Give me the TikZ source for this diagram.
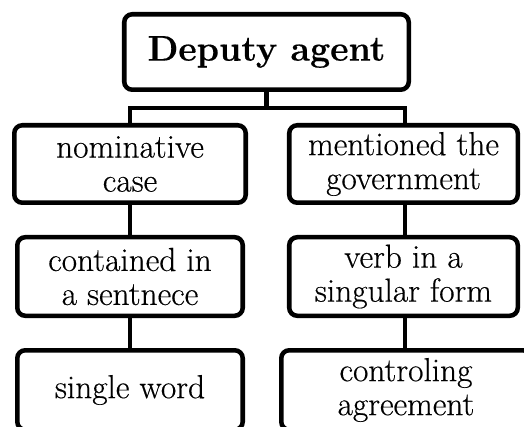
\documentclass[tikz,border=0pt]{standalone}
\usepackage{fontspec}
\setmainfont[FakeBold=0.4]{Latin Modern Roman}
\begin{document}
\begin{tikzpicture}[x=0.75pt,y=-0.75pt,
  box/.style={draw=black,line width=3.4pt,rounded corners=6pt,fill=white,align=center,inner sep=0pt,
    font=\fontsize{25}{25.5}\selectfont},
  conn/.style={draw=black,line width=3.4pt}]
\clip (0,0) rectangle (524,427);
\fill[white] (0,0) rectangle (524,427);
\node[box,font=\fontsize{26.8}{30}\selectfont\bfseries,minimum width=213.4pt,minimum height=56.6pt] (top) at (266.5,52) {Deputy agent};
\node[box,minimum width=173.6pt,minimum height=58.1pt] (l2l) at (130,164) {nominative\\case};
\node[box,minimum width=171.4pt,minimum height=58.1pt] (l2r) at (403.5,164) {mentioned the\\government};
\node[box,minimum width=169.1pt,minimum height=58.9pt] (l3l) at (130,276.5) {contained in\\a sentnece};
\node[box,minimum width=171.4pt,minimum height=58.9pt] (l3r) at (403.5,276.5) {verb in a\\singular form};
\node[box,minimum width=169.1pt,minimum height=59.6pt] (l4l) at (130,390) {single word};
\node[box,minimum width=187.1pt,minimum height=59.6pt] (l4r) at (406,390) {controling\\agreement};
\coordinate (busL) at (130,108);
\coordinate (busR) at (405,108);
\draw[conn] (top.south) -- (top.south |- busL);
\draw[conn] (l2l.north) -- (busL) -- (busR) -- (busR |- l2r.north);
\draw[conn] (l2l.south) -- (l3l.north);
\draw[conn] (l3l.south) -- (l4l.north);
\draw[conn] (busR |- l2r.south) -- (busR |- l3r.north);
\draw[conn] (busR |- l3r.south) -- (busR |- l4r.north);
\end{tikzpicture}
\end{document}
